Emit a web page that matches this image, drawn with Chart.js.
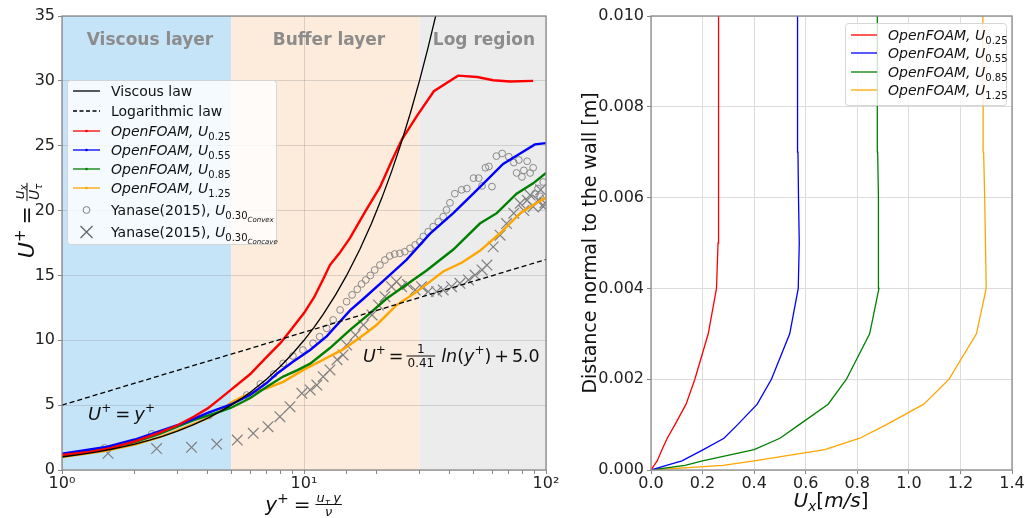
<!DOCTYPE html>
<html lang="en">
<head>
<meta charset="UTF-8">
<title>Wall law and velocity profiles</title>
<script src="https://cdn.jsdelivr.net/npm/chart.js"></script>
<style>
  body { margin: 0; background: #fff; }
  .wrap { position: relative; width: 1030px; height: 518px; }
  canvas { position: absolute; top: 0; }
  #wallLaw { left: 0; }
  #profiles { left: 560px; }
</style>
</head>
<body>
<div class="wrap">
  <canvas id="wallLaw" width="560" height="518"></canvas>
  <canvas id="profiles" width="470" height="518"></canvas>
</div>
<script>
// ---- left panel: U+ against y+ ----
const viscousYPlus = [1, 1.2, 1.4, 1.6, 1.8, 2, 2.3, 2.6, 3, 3.5, 4, 4.5, 5, 5.5, 6, 7, 8, 9, 10, 11, 12, 13.5, 15, 17, 19, 21, 23, 25, 27.5, 30, 32.5, 35, 37.5, 40];
const viscousUPlus = [1, 1.2, 1.4, 1.6, 1.8, 2, 2.3, 2.6, 3, 3.5, 4, 4.5, 5, 5.5, 6, 7, 8, 9, 10, 11, 12, 13.5, 15, 17, 19, 21, 23, 25, 27.5, 30, 32.5, 35, 37.5, 40];
const logLawYPlus = [1, 10, 100];
const logLawUPlus = [5.0, 10.62, 16.23];

const redYPlus = [1, 1.3, 1.6, 2, 2.5, 3, 3.5, 4, 4.5, 5, 6, 7, 8, 9, 10, 11, 12, 12.8, 14, 15.5, 18, 20.6, 23, 25.4, 29.3, 34.4, 43.3, 52, 60.5, 71, 88.5];
const redUPlus = [1.15, 1.4, 1.7, 2.2, 2.85, 3.45, 4.1, 4.75, 5.5, 6.2, 7.4, 8.7, 9.8, 11.0, 12.1, 13.3, 14.7, 15.8, 16.7, 17.9, 20.0, 21.8, 23.8, 25.5, 27.3, 29.2, 30.4, 30.3, 30.05, 29.95, 30.0];
const blueYPlus = [1, 1.5, 2, 2.5, 3, 3.5, 4, 4.5, 5, 6, 7, 7.7, 9, 10.6, 12.4, 15.5, 17.6, 21.9, 26.5, 33.1, 41.4, 53.3, 66.5, 78.2, 90, 100];
const blueUPlus = [1.25, 1.75, 2.35, 2.95, 3.45, 3.95, 4.4, 4.75, 5.05, 5.8, 6.7, 7.4, 8.35, 9.25, 10.3, 12.3, 13.2, 14.8, 16.2, 18.2, 19.8, 21.8, 23.6, 24.4, 25.1, 25.2];
const greenYPlus = [1, 1.5, 2, 2.5, 3, 3.5, 4, 4.5, 5, 6, 7, 8.2, 9.4, 10.6, 12.8, 15.5, 18.5, 21.9, 25.7, 32.2, 41.4, 53.3, 62.6, 75.6, 88.5, 100];
const greenUPlus = [1.1, 1.6, 2.15, 2.75, 3.35, 3.85, 4.2, 4.5, 4.8, 5.55, 6.4, 7.2, 7.7, 8.2, 9.4, 10.8, 12.0, 13.2, 14.1, 15.4, 17.0, 19.0, 19.8, 21.3, 22.1, 22.9];
const orangeYPlus = [1, 1.5, 2, 2.5, 3, 3.5, 4, 4.5, 5, 5.5, 6, 7, 8.2, 9.9, 12, 14.5, 17, 20, 24.1, 29.3, 37.6, 45, 53.3, 64.6, 78.2, 90, 100];
const orangeUPlus = [1.0, 1.45, 1.95, 2.5, 3.05, 3.55, 4.0, 4.55, 5.2, 5.6, 5.9, 6.3, 6.8, 7.7, 8.5, 9.3, 10.2, 11.2, 12.7, 13.75, 15.3, 16.0, 16.9, 18.25, 19.8, 20.5, 21.0];

const convexYPlus = [1.5, 2.35, 4.05, 5.8, 6.6, 7.5, 8.2, 9.0, 9.9, 10.9, 11.6, 12.4, 13.2, 14.1, 15.0, 15.8, 16.6, 17.3, 18.0, 18.8, 19.6, 20.6, 21.6, 22.6, 23.7, 24.9, 26.1, 27.4, 28.8, 30.1, 31.1, 32.6, 34.2, 35.9, 37.6, 38.8, 40.1, 42.0, 44.8, 47.1, 50.2, 52.7, 54.4, 56.2, 58.1, 59.8, 62.4, 65.9, 70.2, 73.6, 75.6, 77.2, 79.5, 81.0, 83.6, 86.0, 88.5, 90.1, 92.7, 94.6, 97.4];
const convexUPlus = [1.7, 2.78, 4.2, 5.78, 6.63, 7.4, 8.22, 8.79, 9.25, 9.77, 10.28, 10.92, 11.57, 12.34, 12.98, 13.5, 13.93, 14.34, 14.65, 15.0, 15.42, 15.8, 16.19, 16.5, 16.65, 16.7, 16.83, 17.09, 17.35, 17.6, 18.0, 18.37, 18.76, 19.14, 19.53, 20.05, 20.6, 21.3, 21.6, 21.7, 22.5, 22.5, 21.9, 23.3, 23.4, 21.85, 24.2, 24.4, 24.15, 23.7, 22.9, 23.9, 22.6, 23.1, 23.8, 22.9, 23.3, 21.3, 21.7, 21.1, 22.2];
const concaveYPlus = [1.55, 2.46, 3.43, 4.36, 5.3, 6.17, 7.1, 7.95, 8.75, 9.8, 10.6, 11.3, 12.0, 12.8, 13.7, 14.5, 15.0, 16.3, 17.6, 19.1, 20.3, 21.6, 23.0, 24.1, 25.3, 26.8, 28.8, 30.6, 32.6, 35.3, 37.6, 40.7, 44.1, 47.8, 50.9, 54.4, 57.0, 60.5, 64.6, 68.7, 73.6, 78.2, 81, 83.6, 86, 88.5, 92.7, 95, 97.4, 99];
const concaveUPlus = [1.29, 1.65, 1.75, 2.0, 2.31, 2.83, 3.34, 4.11, 4.88, 5.91, 6.17, 6.55, 7.19, 7.71, 8.5, 8.87, 9.64, 10.41, 11.18, 11.95, 12.72, 13.36, 14.13, 14.52, 14.13, 14.3, 13.88, 14.13, 13.75, 13.75, 13.88, 14.13, 14.39, 14.65, 15.03, 15.42, 15.8, 17.2, 18.1, 19.0, 19.8, 20.56, 20.0, 20.8, 21.2, 20.3, 20.8, 21.6, 20.3, 20.6];

const wallLawYTicks = [0, 5, 10, 15, 20, 25, 30, 35];

// ---- right panel: velocity against wall distance ----
const wallDistance = [0, 0.0001, 0.0002, 0.00045, 0.0007, 0.001, 0.00145, 0.002, 0.003, 0.004, 0.005, 0.006, 0.007, 0.008, 0.009, 0.01];
const uxRed = [0, 0.012, 0.024, 0.043, 0.063, 0.093, 0.136, 0.17, 0.222, 0.254, 0.26, 0.262, 0.262, 0.262, 0.262, 0.262];
const uxBlue = [0, 0.06, 0.12, 0.203, 0.283, 0.336, 0.412, 0.467, 0.538, 0.571, 0.575, 0.572, 0.57, 0.569, 0.568, 0.568];
const uxGreen = [0, 0.132, 0.2, 0.4, 0.5, 0.575, 0.687, 0.758, 0.848, 0.884, 0.883, 0.881, 0.879, 0.878, 0.878, 0.877];
const uxOrange = [0, 0.28, 0.4, 0.674, 0.81, 0.913, 1.058, 1.156, 1.262, 1.30, 1.297, 1.294, 1.29, 1.288, 1.287, 1.287];

const caseLabels = ['0.25', '0.55', '0.85', '1.25'];
const caseColours = ['#ff0000', '#0000ff', '#008000', '#ffa500'];

// ---- text helpers (italic runs, sub/superscripts, gaps and fractions) ----
const FAMILY = '"DejaVu Sans", sans-serif';
const T = (t, s, st, dy) => ({ t, s, st: st || '', dy: dy || 0 });
const G = g => ({ g });
const frac = (num, den, bar, denDrop) => ({ num, den, bar, denDrop });
const fontOf = (s, st) => (st ? st + ' ' : '') + s + 'px ' + FAMILY;

function pieceWidth(ctx, p) {
  if (p.g !== undefined) return p.g;
  if (p.num) return Math.max(runsWidth(ctx, p.num), runsWidth(ctx, p.den)) + 4;
  ctx.font = fontOf(p.s, p.st);
  return ctx.measureText(p.t).width;
}
function runsWidth(ctx, runs) {
  return runs.reduce((w, p) => w + pieceWidth(ctx, p), 0);
}
function drawRuns(ctx, runs, x, y, centred) {
  let cx = centred ? x - runsWidth(ctx, runs) / 2 : x;
  ctx.textAlign = 'left';
  ctx.textBaseline = 'alphabetic';
  for (const p of runs) {
    const w = pieceWidth(ctx, p);
    if (p.num) {
      drawRuns(ctx, p.num, cx + w / 2, y + p.bar - 3, true);
      drawRuns(ctx, p.den, cx + w / 2, y + p.bar + p.denDrop, true);
      ctx.fillRect(cx + 1, y + p.bar - 0.5, w - 2, 1);
    } else if (p.t) {
      ctx.font = fontOf(p.s, p.st);
      ctx.fillText(p.t, cx, y + p.dy);
    }
    cx += w;
  }
}

function legendBox(ctx, x, y, w, h) {
  ctx.save();
  ctx.fillStyle = 'rgba(255,255,255,0.8)';
  ctx.strokeStyle = 'rgba(210,210,210,0.9)';
  ctx.lineWidth = 1;
  ctx.beginPath();
  ctx.roundRect(x + 0.5, y + 0.5, w, h, 3);
  ctx.fill();
  ctx.stroke();
  ctx.restore();
}

function legendSample(ctx, e, x0, x1, y, width) {
  ctx.save();
  ctx.strokeStyle = e.colour;
  ctx.lineWidth = width;
  if (e.kind === 'line' || e.kind === 'dash') {
    ctx.setLineDash(e.kind === 'dash' ? [4, 2.5] : []);
    ctx.beginPath(); ctx.moveTo(x0, y); ctx.lineTo(x1, y); ctx.stroke();
    if (e.dot) {
      ctx.fillStyle = e.colour;
      ctx.beginPath(); ctx.arc((x0 + x1) / 2, y, 1.3, 0, Math.PI * 2); ctx.fill();
    }
  } else if (e.kind === 'circle') {
    ctx.lineWidth = 1;
    ctx.beginPath(); ctx.arc((x0 + x1) / 2, y, 3.4, 0, Math.PI * 2); ctx.stroke();
  } else if (e.kind === 'cross') {
    const c = (x0 + x1) / 2, r = 6;
    ctx.lineWidth = 1.2;
    ctx.beginPath();
    ctx.moveTo(c - r, y - r); ctx.lineTo(c + r, y + r);
    ctx.moveTo(c + r, y - r); ctx.lineTo(c - r, y + r);
    ctx.stroke();
  }
  ctx.restore();
}

const pts = (xs, ys) => xs.map((x, i) => ({ x, y: ys[i] }));
const isDecade = v => Math.abs(Math.log10(v) - Math.round(Math.log10(v))) < 1e-9;
const SUP = { 0: '⁰', 1: '¹', 2: '²' };
const tickFont = { family: FAMILY, size: 16 };

function lineSet(xs, ys, colour, width, dash) {
  return {
    data: pts(xs, ys), showLine: true, borderColor: colour, backgroundColor: colour,
    borderWidth: width, borderDash: dash || [], pointRadius: 0, tension: 0, fill: false
  };
}

// shaded flow regions behind the grid
const regionBands = {
  id: 'regionBands',
  beforeDraw(chart) {
    const { ctx, chartArea: a, scales: { x } } = chart;
    const bands = [[1, 5, '#c6e4f8'], [5, 30, '#fdebdc'], [30, 100, '#ececec']];
    ctx.save();
    for (const [lo, hi, c] of bands) {
      const x0 = x.getPixelForValue(lo), x1 = x.getPixelForValue(hi);
      ctx.fillStyle = c;
      ctx.fillRect(x0, a.top, x1 - x0, a.bottom - a.top);
    }
    ctx.restore();
  }
};

const frameBox = {
  id: 'frameBox',
  afterDatasetsDraw(chart) {
    const { ctx, chartArea: a } = chart;
    ctx.save();
    ctx.strokeStyle = '#8a8a8a';
    ctx.lineWidth = 1.3;
    ctx.strokeRect(a.left, a.top, a.right - a.left, a.bottom - a.top);
    ctx.restore();
  }
};

const wallLawText = {
  id: 'wallLawText',
  afterDraw(chart) {
    const ctx = chart.ctx;
    ctx.save();
    // region names
    ctx.fillStyle = '#8c8c8c';
    ctx.font = 'bold 17px ' + FAMILY;
    ctx.textAlign = 'center';
    ctx.textBaseline = 'alphabetic';
    ctx.fillText('Viscous layer', 150, 45);
    ctx.fillText('Buffer layer', 329, 45);
    ctx.fillText('Log region', 484, 45);

    ctx.fillStyle = '#111';
    // law annotations
    drawRuns(ctx, [T('U', 18, 'italic'), T('+', 12, '', -8), G(4), T('=', 18), G(4),
      T('y', 18, 'italic'), T('+', 12, '', -8)], 88, 420);
    drawRuns(ctx, [T('U', 17.5, 'italic'), T('+', 12, '', -8), G(3), T('=', 17.5), G(2),
      frac([T('1', 12)], [T('0.41', 12)], -6, 11), G(5), T('ln', 17.5, 'italic'), T('(', 17.5),
      T('y', 17.5, 'italic'), T('+', 12, '', -8), T(')', 17.5), G(3), T('+', 17.5), G(3), T('5.0', 17.5)], 363, 362);

    // axis titles
    drawRuns(ctx, [T('y', 20, 'italic'), T('+', 14, '', -8), G(5), T('=', 20), G(4),
      frac([T('u', 13, 'italic'), T('τ', 9, 'italic', 3), G(3), T('y', 13, 'italic')], [T('ν', 13, 'italic')], -6.5, 11)], 304, 511, true);
    ctx.save();
    ctx.translate(34, 220);
    ctx.rotate(-Math.PI / 2);
    drawRuns(ctx, [T('U', 22, 'italic'), T('+', 15, '', -9), G(5), T('=', 22), G(4),
      frac([T('u', 14, 'italic'), T('x', 10, 'italic', 3)], [T('U', 14, 'italic'), T('τ', 10, 'italic', 3)], -7, 12)], 0, 0, true);
    ctx.restore();

    // legend
    legendBox(ctx, 67, 80, 209, 164);
    const rows = [
      { kind: 'line', colour: '#000', label: [T('Viscous law', 14)] },
      { kind: 'dash', colour: '#000', label: [T('Logarithmic law', 14)] }
    ];
    caseLabels.forEach((c, i) => rows.push({
      kind: 'line', dot: true, colour: caseColours[i],
      label: [T('OpenFOAM, U', 14, 'italic'), T(c, 10, '', 4)]
    }));
    rows.push({ kind: 'circle', colour: '#808080',
      label: [T('Yanase(2015), ', 14), T('U', 14, 'italic'), T('0.30', 10, '', 4), T('Convex', 7, 'italic', 7)] });
    rows.push({ kind: 'cross', colour: '#606060',
      label: [T('Yanase(2015), ', 14), T('U', 14, 'italic'), T('0.30', 10, '', 4), T('Concave', 7, 'italic', 7)] });
    const rowY = [91, 111, 131, 150, 169, 188, 210, 232];
    rows.forEach((r, i) => {
      legendSample(ctx, r, 73, 100, rowY[i], 1.3);
      ctx.fillStyle = '#111';
      drawRuns(ctx, r.label, 111, rowY[i] + 5);
    });
    ctx.restore();
  }
};

new Chart(document.getElementById('wallLaw'), {
  type: 'scatter',
  data: {
    datasets: [
      lineSet(viscousYPlus, viscousUPlus, '#000', 1.3),
      lineSet(logLawYPlus, logLawUPlus, '#000', 1.3, [5, 3]),
      lineSet(redYPlus, redUPlus, caseColours[0], 2.4),
      lineSet(blueYPlus, blueUPlus, caseColours[1], 2.4),
      lineSet(greenYPlus, greenUPlus, caseColours[2], 2.4),
      lineSet(orangeYPlus, orangeUPlus, caseColours[3], 2.4),
      { data: pts(convexYPlus, convexUPlus), pointStyle: 'circle', pointRadius: 3.4,
        borderColor: '#8a8a8a', backgroundColor: 'rgba(0,0,0,0)', borderWidth: 1 },
      { data: pts(concaveYPlus, concaveUPlus), pointStyle: 'crossRot', pointRadius: 7.5,
        borderColor: '#808080', backgroundColor: '#808080', borderWidth: 1.2 }
    ]
  },
  options: {
    responsive: false,
    animation: false,
    layout: { padding: { top: 16, right: 14, left: 0, bottom: 0 } },
    plugins: { legend: { display: false }, tooltip: { enabled: false } },
    scales: {
      x: {
        type: 'logarithmic', min: 1, max: 100,
        border: { display: false },
        grid: {
          color: c => isDecade(c.tick.value) ? 'rgba(140,140,140,0.3)' : 'rgba(0,0,0,0)',
          tickColor: '#888', tickLength: 4
        },
        ticks: {
          autoSkip: false, maxRotation: 0, padding: 0, color: '#222', font: tickFont,
          callback: v => isDecade(v) ? '10' + SUP[Math.round(Math.log10(v))] : ''
        },
        afterFit: s => { s.height = 48; }
      },
      y: {
        min: 0, max: 35,
        border: { display: false },
        grid: { color: 'rgba(140,140,140,0.3)', tickColor: '#888', tickLength: 4 },
        afterBuildTicks: s => { s.ticks = wallLawYTicks.map(v => ({ value: v })); },
        ticks: { padding: 3, color: '#222', font: tickFont },
        afterFit: s => { s.width = 62; }
      }
    }
  },
  plugins: [regionBands, frameBox, wallLawText]
});

// ---- right panel ----
const profileText = {
  id: 'profileText',
  afterDraw(chart) {
    const ctx = chart.ctx;
    ctx.save();
    ctx.fillStyle = '#111';
    drawRuns(ctx, [T('U', 20, 'italic'), T('x', 14, 'italic', 4), T('[', 20), T('m/s', 20, 'italic'), T(']', 20)], 271, 507, true);
    ctx.save();
    ctx.translate(36, 243);
    ctx.rotate(-Math.PI / 2);
    ctx.font = '19px ' + FAMILY;
    ctx.textAlign = 'center';
    ctx.textBaseline = 'alphabetic';
    ctx.fillText('Distance normal to the wall [m]', 0, 0);
    ctx.restore();

    legendBox(ctx, 285, 23, 161, 82);
    const rowY = [35, 53, 72, 90];
    caseLabels.forEach((c, i) => {
      legendSample(ctx, { kind: 'line', colour: caseColours[i] }, 291, 317, rowY[i], 1.3);
      ctx.fillStyle = '#111';
      drawRuns(ctx, [T('OpenFOAM, U', 14, 'italic'), T(c, 10, '', 4)], 328, rowY[i] + 5);
    });
    ctx.restore();
  }
};

new Chart(document.getElementById('profiles'), {
  type: 'scatter',
  data: {
    datasets: [uxRed, uxBlue, uxGreen, uxOrange].map((u, i) =>
      lineSet(u, wallDistance, caseColours[i], 1.3))
  },
  options: {
    responsive: false,
    animation: false,
    layout: { padding: { top: 16, right: 18, left: 0, bottom: 0 } },
    plugins: { legend: { display: false }, tooltip: { enabled: false } },
    scales: {
      x: {
        min: 0, max: 1.4,
        border: { display: false },
        grid: { color: '#dcdcdc', tickColor: '#888', tickLength: 4 },
        ticks: { stepSize: 0.2, padding: 0, color: '#222', font: tickFont, callback: v => v.toFixed(1) },
        afterFit: s => { s.height = 48; }
      },
      y: {
        min: 0, max: 0.01,
        border: { display: false },
        grid: { color: '#dcdcdc', tickColor: '#888', tickLength: 4 },
        ticks: { stepSize: 0.002, padding: 3, color: '#222', font: tickFont, callback: v => v.toFixed(3) },
        afterFit: s => { s.width = 91; }
      }
    }
  },
  plugins: [frameBox, profileText]
});
</script>
</body>
</html>
